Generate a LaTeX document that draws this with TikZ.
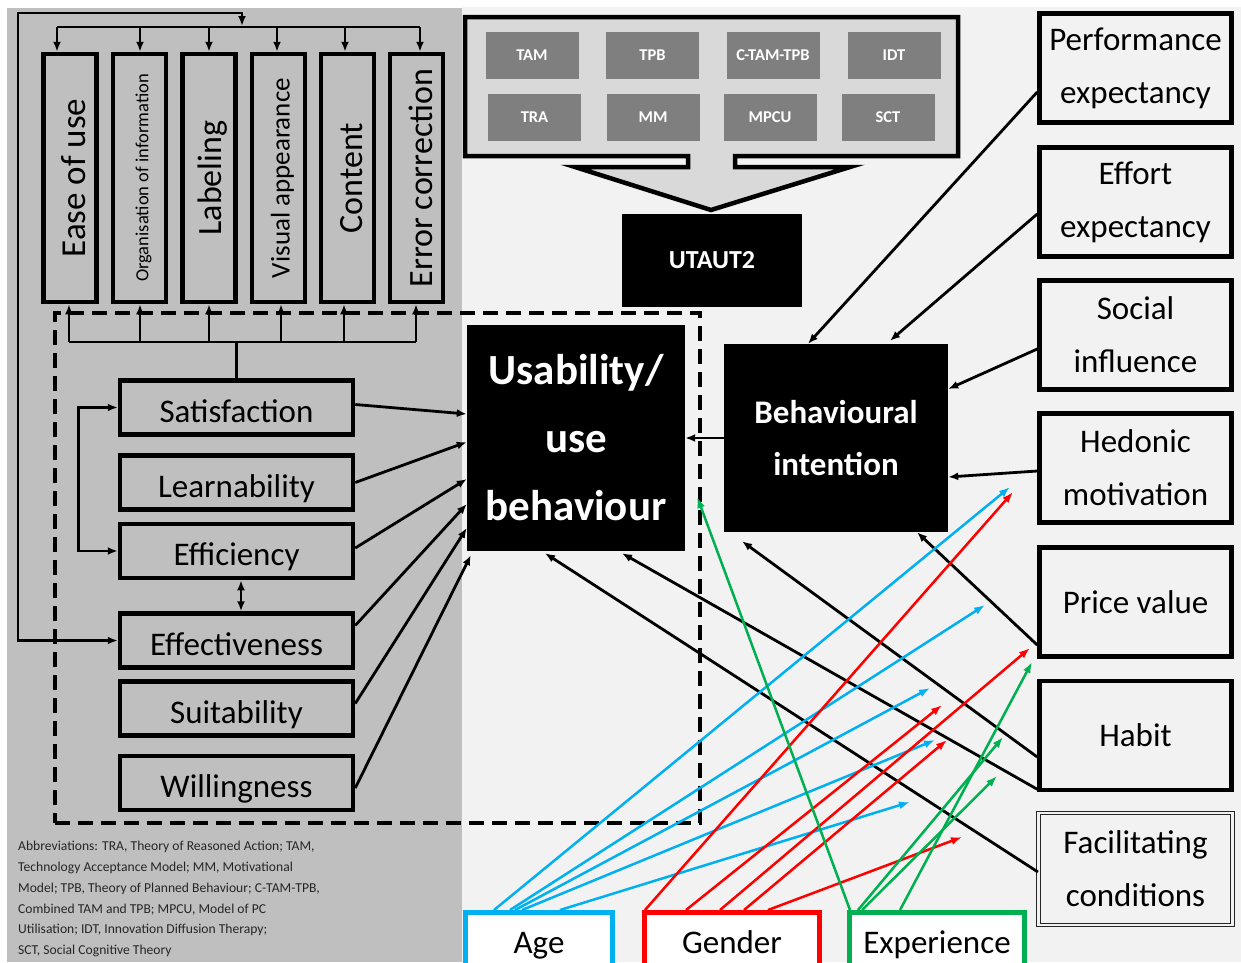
\documentclass[tikz,border=0pt]{standalone}
\usepackage{fontspec}
\usepackage{graphicx}
\setmainfont{Carlito}
\usetikzlibrary{arrows.meta,calc}
\definecolor{gbg}{HTML}{BFBFBF}
\definecolor{lbg}{HTML}{F2F2F2}
\definecolor{ubg}{HTML}{D9D9D9}
\definecolor{modelgray}{HTML}{7F7F7F}
\definecolor{cyanc}{HTML}{00B0F0}
\definecolor{redc}{HTML}{FF0000}
\definecolor{greenc}{HTML}{00B050}
\newcommand{\vlabel}[2]{\rotatebox{90}{\raisebox{-4pt}[\height][\depth]{\fontsize{#1}{#1}\selectfont #2}}}
\begin{document}
\begin{tikzpicture}[x=1pt,y=-1pt,
  every node/.style={inner sep=0pt},
  vbox/.style={draw=black,line width=4.5pt,fill=gbg,minimum width=53pt,minimum height=248pt},
  hbox/.style={draw=black,line width=4.5pt,fill=gbg,minimum width=233pt,minimum height=54pt,text height=29pt,text depth=0pt,font=\fontsize{33}{40}\selectfont},
  rbox/.style={draw=black,line width=4.5pt,fill=lbg,minimum width=192pt,minimum height=109pt,align=center,font=\fontsize{33}{53}\selectfont},
  modelbox/.style={fill=modelgray,text=white,font=\bfseries\fontsize{16.5}{18}\selectfont,minimum width=93pt,minimum height=47pt},
  blk/.style={fill=black,text=white,align=center},
  modbox/.style={draw=#1,line width=5pt,fill=white,minimum width=175pt,minimum height=61pt,text height=22pt,text depth=2pt,font=\fontsize{33}{40}\selectfont},
  ln/.style={line width=2.8pt},
  arr/.style={line width=2.8pt,-{Latex[length=10pt,width=8pt]}},
  arrb/.style={line width=2.8pt,{Latex[length=10pt,width=8pt]}-{Latex[length=10pt,width=8pt]}},
  carr/.style={line width=2.5pt,draw=#1,-{Latex[length=11pt,width=8pt]}}
]
\useasboundingbox (0,0) rectangle (1241,962);
\fill[white] (0,0) rectangle (1241,962);
\fill[gbg] (7,8) rectangle (462,962);
\fill[lbg] (462,7) rectangle (1241,962);

% dashed frame
\node[draw=black,line width=3.5pt,dash pattern=on 15pt off 8pt,minimum width=645pt,minimum height=510pt] (frame) at (377.5,568) {};

% vertical boxes
\node[vbox] (ease) at (70,178) {\vlabel{35}{Ease of use}};
\node[vbox] (org) at (139.5,178) {\vlabel{18.5}{Organisation of information}};
\node[vbox] (lab) at (209,178) {\vlabel{34}{Labeling}};
\node[vbox] (vis) at (278.5,178) {\vlabel{27}{Visual appearance}};
\node[vbox] (con) at (347.5,178) {\vlabel{34}{Content}};
\node[vbox] (err) at (416.5,178) {\vlabel{34}{Error correction}};

% horizontal boxes
\node[hbox] (sat) at (236.5,407.5) {Satisfaction};
\node[hbox] (lea) at (236.5,482.5) {Learnability};
\node[hbox] (eff) at (236.5,551) {Efficiency};
\node[hbox] (effv) at (236.5,640.5) {Effectiveness};
\node[hbox] (sui) at (236.5,708.5) {Suitability};
\node[hbox] (wil) at (236.5,783) {Willingness};

% UTAUT callout
\draw[line width=4.5pt,fill=ubg,line join=miter] (465,17) -- (958,17) -- (958,156) -- (735,156) -- (735,167) -- (850,167) -- (711,210) -- (575,167) -- (688,167) -- (688,156) -- (465,156) -- cycle;
\node[modelbox] (tam) at (532,55.5) {TAM};
\node[modelbox] (tpb) at (652.5,55.5) {TPB};
\node[modelbox] (ctam) at (773,55.5) {C-TAM-TPB};
\node[modelbox] (idt) at (894,55.5) {IDT};
\node[modelbox] (tra) at (534.5,117.5) {TRA};
\node[modelbox] (mm) at (653,117.5) {MM};
\node[modelbox] (mpcu) at (770,117.5) {MPCU};
\node[modelbox] (sct) at (888,117.5) {SCT};
\node[blk,minimum width=180pt,minimum height=93pt,font=\bfseries\fontsize{26}{28}\selectfont] (ut2) at (712,260.5) {UTAUT2};

% central black boxes
\node[blk,minimum width=218pt,minimum height=226pt,font=\bfseries\fontsize{43}{68}\selectfont] (usab) at (576,438) {Usability/\\use\\behaviour};
\node[blk,minimum width=224pt,minimum height=188pt,font=\bfseries\fontsize{33}{52}\selectfont] (bi) at (836,438) {Behavioural\\intention};

% right boxes
\node[rbox] (perf) at (1135.5,68) {Performance\\expectancy};
\node[rbox] (effo) at (1135.5,202) {Effort\\expectancy};
\node[rbox] (soc) at (1135.5,335) {Social\\influence};
\node[rbox] (hed) at (1135.5,468) {Hedonic\\motivation};
\node[rbox] (price) at (1135.5,602) {Price value};
\node[rbox] (hab) at (1135.5,735.5) {Habit};
\node[rbox,draw=black!85,line width=1.1pt,double=lbg,double distance=2.2pt,minimum width=194pt,minimum height=112pt] (fac) at (1135.5,869) {Facilitating\\conditions};

% moderators
\node[modbox=cyanc,minimum width=147pt] (age) at (539,943) {Age};
\node[modbox=redc] (gen) at (732,943) {Gender};
\node[modbox=greenc] (exp) at (937,943) {Experience};

% abbreviations
\node[anchor=north west,align=left,text=black!85,font=\fontsize{13.6}{20.8}\selectfont] (abbr) at (18,841) {Abbreviations: TRA, Theory of Reasoned Action; TAM,\\Technology Acceptance Model; MM, Motivational\\Model; TPB, Theory of Planned Behaviour; C-TAM-TPB,\\Combined TAM and TPB; MPCU, Model of PC\\Utilisation; IDT, Innovation Diffusion Therapy;\\SCT, Social Cognitive Theory};

% top distribution bus
\coordinate (bt1) at (57,27); \coordinate (bt2) at (140,27); \coordinate (bt3) at (209,27);
\coordinate (bt4) at (277,27); \coordinate (bt5) at (345,27); \coordinate (bt6) at (420,27);
\draw[ln] (bt1) -- (bt6);
\draw[arr] (bt1) -- (bt1 |- ease.north);
\draw[arr] (bt2) -- (bt2 |- org.north);
\draw[arr] (bt3) -- (bt3 |- lab.north);
\draw[arr] (bt4) -- (bt4 |- vis.north);
\draw[arr] (bt5) -- (bt5 |- con.north);
\draw[arr] (bt6) -- (bt6 |- err.north);
\coordinate (hub) at (242,26); \coordinate (lc) at (18,13);
\draw[arrb] (hub) |- (lc) |- (effv.west);

% bottom bus
\coordinate (bb1) at (69,342); \coordinate (bb2) at (140,342); \coordinate (bb3) at (209,342);
\coordinate (bb4) at (281,342); \coordinate (bb5) at (344,342); \coordinate (bb6) at (416,342);
\draw[ln] (bb1) -- (bb6);
\draw[ln] (sat.north) -- (sat.north |- bb1);
\draw[arr] (bb1) -- (bb1 |- ease.south);
\draw[arr] (bb2) -- (bb2 |- org.south);
\draw[arr] (bb3) -- (bb3 |- lab.south);
\draw[arr] (bb4) -- (bb4 |- vis.south);
\draw[arr] (bb5) -- (bb5 |- con.south);
\draw[arr] (bb6) -- (bb6 |- err.south);

% left bracket and double arrow
\draw[arrb] (sat.west) -- ++(-39,0) |- (eff.west);
\draw[arrb] ([xshift=4.5pt]eff.south) -- ([xshift=4.5pt]effv.north);

% left boxes to usability
\draw[arr] ([yshift=3pt]sat.east) -- ([yshift=24pt]usab.west);
\draw[arr] (lea.east) -- ([yshift=-4pt]usab.west);
\draw[arr] ([yshift=3pt]eff.east) -- ([yshift=-41pt]usab.west);
\draw[arr] ([yshift=15pt]effv.east) -- ([yshift=-66pt]usab.west);
\draw[arr] ([yshift=5pt]sui.east) -- ([yshift=-90pt]usab.west);
\draw[arr] ([yshift=-5pt]wil.east) -- ([xshift=4pt,yshift=-4pt]usab.south west);

% right constructs
\draw[arr] ([yshift=-24pt]perf.west) -- ([xshift=-28pt]bi.north);
\draw[arr] ([yshift=-12pt]effo.west) -- ([xshift=54pt,yshift=3pt]bi.north);
\draw[arr] ([yshift=-14pt]soc.west) -- ([yshift=49pt]bi.east);
\draw[arr] ([yshift=-3pt]hed.west) -- ([yshift=-39pt]bi.east);
\draw[arr] (bi.west) -- (bi.west -| usab.east);
\draw[arr] ([yshift=-43pt]price.west) -- ([xshift=81pt]bi.south);
\draw[arr] ([yshift=-21.5pt]hab.west) -- ([xshift=-94pt,yshift=-9pt]bi.south);
\draw[arr] ([yshift=3pt]hab.south west) -- ([xshift=46pt,yshift=-2pt]usab.south);
\draw[arr] ([yshift=-3pt]fac.west) -- ([xshift=-31pt,yshift=-2pt]usab.south);

% moderator arrow ends
\coordinate (ca1) at (1010,487); \coordinate (ca2) at (985,605); \coordinate (ca3) at (930,688);
\coordinate (ca4) at (935,740); \coordinate (ca5) at (910,802);
\coordinate (cg1) at (1013,492); \coordinate (cg2) at (942,705); \coordinate (cg3) at (1030,648);
\coordinate (cg4) at (947,740); \coordinate (cg5) at (962,837);
\coordinate (ce2) at (1032,662); \coordinate (ce3) at (1003,737); \coordinate (ce4) at (997,776);

\draw[carr=cyanc] ([xshift=-45pt]age.north) -- (ca1);
\draw[carr=cyanc] ([xshift=-29pt]age.north) -- (ca2);
\draw[carr=cyanc] ([xshift=-24pt]age.north) -- (ca3);
\draw[carr=cyanc] ([xshift=-17pt]age.north) -- (ca4);
\draw[carr=cyanc] ([xshift=21pt]age.north) -- (ca5);

\draw[carr=redc] ([xshift=-87pt]gen.north) -- (cg1);
\draw[carr=redc] ([xshift=-46pt]gen.north) -- (cg2);
\draw[carr=redc] ([xshift=-12pt]gen.north) -- (cg3);
\draw[carr=redc] ([xshift=12pt]gen.north) -- (cg4);
\draw[carr=redc] ([xshift=36pt]gen.north) -- (cg5);

\draw[carr=greenc] ([xshift=3pt]exp.north west) -- ([xshift=12pt,yshift=-59pt]usab.east);
\draw[carr=greenc] ([xshift=-37pt]exp.north) -- (ce2);
\draw[carr=greenc] ([xshift=-79pt]exp.north) -- (ce3);
\draw[carr=greenc] ([xshift=-75pt]exp.north) -- (ce4);
\end{tikzpicture}
\end{document}
